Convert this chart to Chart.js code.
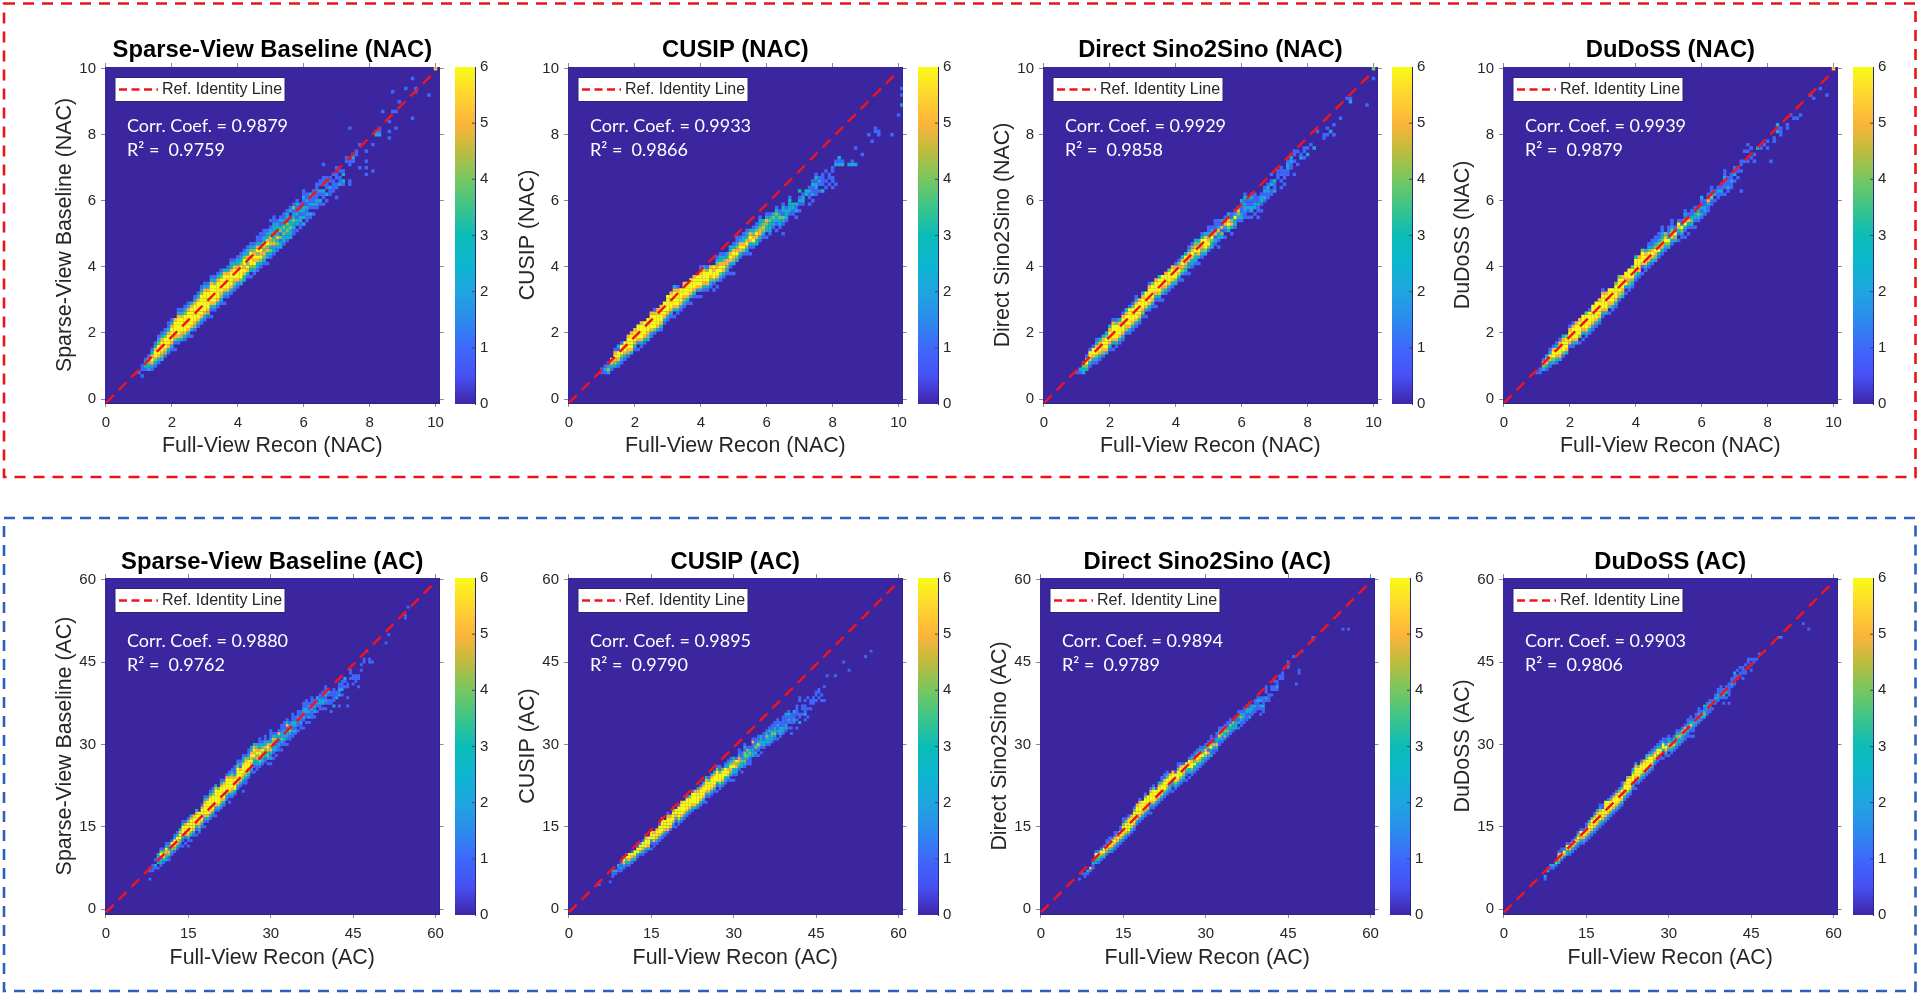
<!DOCTYPE html>
<html>
<head>
<meta charset="utf-8">
<title>Recon scatter density</title>
<script src="https://cdn.jsdelivr.net/npm/chart.js@4"></script>
<style>
  html, body { margin: 0; background: #fff; }
  canvas { position: absolute; }
  svg { position: absolute; left: 0; top: 0; }
</style>
</head>
<body>
<svg width="1920" height="995">
  <rect x="4" y="3.5" width="1911.5" height="473.5" fill="none" stroke="#e8141c" stroke-width="2.6" stroke-dasharray="11 8"/>
  <rect x="4" y="518" width="1911.5" height="473" fill="none" stroke="#2c5fbe" stroke-width="2.6" stroke-dasharray="11 8"/>
</svg>
<script>
// one entry per panel, top row then bottom row
const panelTitles = ['Sparse-View Baseline (NAC)', 'CUSIP (NAC)', 'Direct Sino2Sino (NAC)', 'DuDoSS (NAC)',
  'Sparse-View Baseline (AC)', 'CUSIP (AC)', 'Direct Sino2Sino (AC)', 'DuDoSS (AC)'];
const yLabels = ['Sparse-View Baseline (NAC)', 'CUSIP (NAC)', 'Direct Sino2Sino (NAC)', 'DuDoSS (NAC)',
  'Sparse-View Baseline (AC)', 'CUSIP (AC)', 'Direct Sino2Sino (AC)', 'DuDoSS (AC)'];
const xLabels = ['Full-View Recon (NAC)', 'Full-View Recon (NAC)', 'Full-View Recon (NAC)', 'Full-View Recon (NAC)',
  'Full-View Recon (AC)', 'Full-View Recon (AC)', 'Full-View Recon (AC)', 'Full-View Recon (AC)'];
const corrCoefs = ['0.9879', '0.9933', '0.9929', '0.9939', '0.9880', '0.9895', '0.9894', '0.9903'];
const rSquared = ['0.9759', '0.9866', '0.9858', '0.9879', '0.9762', '0.9790', '0.9789', '0.9806'];

const colorbarTicks = [0, 1, 2, 3, 4, 5, 6];
const nacTickStep = 2, acTickStep = 15;
const nacBinSize = 0.1, acBinSize = 0.5;
const nacIdentity = [[0, -0.12], [10, 9.93]];
const acIdentity = [[0, -0.55], [60, 59.6]];

// heat cells: "column startRow counts", one digit per row going up, 0 = empty
const baselineNac = ['10 8 1','11 7 1011','12 9 1321','13 9 23441','14 9 1256531','15 10 12466531','16 11 135666421',
'17 12 245666531','18 13 145666421','19 14 1356665311','20 15 1256666531','21 15 1014566665','22 17 13566666521',
'23 18 2456666531','24 18 13566666421','25 19 13566666521','26 19 10256666653','27 21 14566666521','28 22 13566666531',
'29 23 125666666421','30 24 135666666531','31 25 14566666521','32 25 1013566666531','33 27 12566666421','34 28 13566666531',
'35 29 12456666421','36 29 10135666653','37 31 1256666531','38 32 13566665321','39 33 1245666531','40 34 1256665321',
'41 35 2466664321','42 36 2356566421','43 37 1356465321','44 37 10346656421','45 38 1246565431','46 39 12356465211',
'47 40 13465643111','48 41 12454563211','49 41 10235465321','50 43 124354532101','51 44 132543423211','52 45 1243532321',
'53 46 2314143121','54 47 1324343211','55 48 1324341321','56 49 2324331021','57 50 1132422141','58 51 1023132131',
'59 52 11321311','60 53 20312211211','61 54 112131211','62 55 12012112','63 56 10121111','64 58 12211211','65 59 13012011',
'66 59 101120211','66 71 1','67 60 10201111','68 62 112011','69 63 111101','70 61 1001101101','71 65 21101','72 65 13021',
'73 72 11','74 65 11000011','74 82 1','75 72 121','76 74 11','77 70 1','77 77 1','79 68 101','79 72 1','79 75 1','81 69 1','81 77 1',
'82 80 22','83 80 211','84 87 1','86 79 101','86 84 1','87 87 1','87 93 1','88 82 1','88 87 1','89 90 1','91 94 1','93 85 1','93 97 1',
'94 93 11','98 92 1','100 100 5'];

const cusipNac = ['10 8 11','11 8 121','12 8 2421','13 9 1356','14 10 245651','15 10 1356612','16 11 1246661','17 12 135666',
'18 13 1456665','19 14 2566665','20 15 1356665','21 15 10256666','22 16 13566665','23 17 1356666','24 18 2456666',
'25 19 12566665','26 20 14666651','27 21 2566665','28 21 13566665','29 23 1356666','30 24 12566666','31 25 13566665',
'32 25 1025666652','33 26 135666651','34 27 1256666','35 28 12456665','36 29 1356666','37 29 10256666','38 31 1356665',
'39 31 1025666','40 31 1025666531','41 33 13566652','42 33 12566641','43 34 1245665','44 33 10146656','45 34 1025665421',
'46 36 124665321','47 37 13565431','48 38 1245532','49 38 101256532','50 38 1002456531','51 42 2465421','51 49 1','52 43 1356521','53 44 1465321',
'54 44 12465321','55 44 10135653','56 46 1365421','57 47 2356421','58 48 13554321','59 49 124543','60 49 10234521','61 50 1233421',
'62 52 12342','63 51 10123431','64 52 123421','65 50 1001241231','66 54 12321','67 56 132331','68 56 1132','69 55 10213',
'70 57 1012103','71 59 1321','72 62 33','73 59 101121','74 60 1021131','75 62 1122131','76 63 10121','77 63 201111','78 64 101','78 69 1',
'79 65 1011','80 64 101 ','80 66 11011','81 65 1','81 71 21','82 71 212','83 71 31','85 71 2','86 71 21','87 71 2','87 76 1','89 74 1','91 80 1','92 78 1',
'93 81 11','94 80 11','98 80 1','100 86 1','101 89 2','101 92 1','101 94 1'];

const sinoNac = ['10 8 1','11 8 12','12 8 2341','13 9 34651','14 10 135661','15 11 125661','16 11 12466531',
'17 12 1356653','18 13 1456653','19 14 2566642','20 15 13566653','21 15 1025666651','22 16 135666641','23 17 13566653',
'24 18 125666651','25 20 14566653','26 20 125666661','27 21 135666641','28 22 1256666521','29 23 13566665','30 25 14566652',
'31 25 10256666','32 27 135666651','33 28 12566664','34 28 101356665','35 30 13566663','36 30 10245666','37 32 1356665',
'38 33 1256664','39 34 1356665','40 35 2466651','41 36 1356541','42 36 10245653','43 38 1345663','44 38 102356521','45 40 12356541',
'46 41 1246 ','46 41 12346542','47 41 10256643','48 43 12456631','49 44 2466652','50 45 14654311','51 46 2346421','52 47 1 ','52 47 13152111',
'53 46 1001 ','53 48 1235211','54 49 241512','55 49 1012531','56 51 246532','57 50 1035411','58 52 133621','59 54 1245','59 58 3','60 54 1321132',
'61 55 11222131','62 55 1012113','63 55 10221131','64 56 1022111','65 55 1011311','66 57 101321','67 60 12121','68 61 11221','69 62 1103101','70 63 2113',
'71 67 111','72 64 1010111','73 65 10111','74 68 11221','75 70 1122','76 68 10001','76 74 11','77 71 10001','78 73 21','79 73 1011',
'80 74 201','81 77 1','82 76 2','83 81 1','85 79 11','86 80 101','87 81 2','88 83 1','88 80 1','90 85 1','92 91 1','93 90 21',
'98 89 1','100 97 1','100 100 4'];

const dudossNac = ['10 8 1','11 8 11','12 9 2451','13 9 13552','14 10 135621','15 11 246651','16 11 1356631',
'17 12 2566651','18 13 1466653','19 14 256664','20 16 1566651','21 16 13566651','22 17 2566665','23 17 10466665',
'24 18 10256666','25 19 13566664','26 20 13566661','27 21 12566666','28 22 13566666','29 23 13566665','30 25 135666651',
'31 26 2566665','32 26 10456666','33 27 1256666','34 28 13566664','35 30 14566664','36 31 2456665','37 32 1026566',
'38 33 1245666','39 34 1246664','40 36 12456663','41 37 1356665','42 38 10156664','43 39 1256652','44 40 13566421',
'45 41 13565211','46 42 24564311','47 43 13654211','48 44 135643211','49 45 124654','50 46 2463211','51 47 13564211',
'52 48 24621','53 48 1013561','54 49 124631','55 49 101365121','56 50 1013521','57 52 134311','58 52 1012311','59 54 12431','60 55 1212112',
'61 56 12211','62 57 113511','63 59 114311','64 60 1021','65 61 1121','66 62 1211','67 62 10112211','68 63 12111','69 64 11211','70 66 10211',
'71 67 1011','72 63 1','72 69 1011','73 72 1001','74 72 1001','74 77 1','75 73 1001','76 72 101','77 76 3','78 76 1','79 77 1','80 76 101','81 72 1',
'82 78 11','83 81 212','84 80 111','86 82 11','87 86 1','88 85 1','89 85 1','90 86 1','93 92 2','94 91 1','96 94 1','98 92 1',
'100 100 5'];

const baselineAc = ['16 11 1','16 14 11','17 14 1','17 15 11','18 15 1201','19 15 102232','20 16 1323641','21 17 135641',
'22 18 2345631','23 18 1145321','24 20 124661','25 21 1456621','26 22 1356631','27 23 1246653','28 23 1013566631','29 24 101456651',
'30 23 10125666641','31 25 1024666653','32 27 13566665','33 27 1012566653','34 28 12456666','35 30 135666651','36 30 101256666531',
'37 32 1356666641','38 33 12566666531','39 34 13566666421','40 34 101256666653','41 36 135666664','42 37 12456666531',
'43 38 1356666651','44 40 1246666651','45 39 101356666531','46 41 12456665421','47 42 13666653111','48 44 12566666421',
'49 45 1356665121','50 43 10012456665321','51 46 1024566654 ','51 47 1245666541','52 48 13456664211','53 50 1235656532','54 50 10123465653',
'55 51 1123546542','56 52 12435653211','57 53 132546421','58 54 1135453211','59 53 102435652','60 53 1021354532111','61 55 1012314531',
'62 56 102213431','63 58 11213251','64 58 1012423111','65 60 113212111','66 60 1012321521','67 62 1124521','68 63 112123111','69 64 1212311',
'70 65 10112211','71 66 1121211','72 66 1001212211','73 68 101122111','74 68 10312121','75 70 1112 ','75 70 11121111','76 70 1031211',
'77 72 101212','78 73 112211','79 73 1023111','80 73 101212111','81 75 110121','82 72 10011011','83 74 2011111','84 77 211','85 74 10002 ','85 79 1211','86 78 102111','87 81 1011 ','87 81 1012',
'88 74 100100011','89 84 1011','90 82 1011','91 83 111','92 81 10011','93 87 101','94 90 11','95 94 1','96 90 11','97 90 1','102 97 1',
'103 100 1','109 106 11','110 110 1'];

const cusipAc = ['11 9 1','15 10 1','16 12 11','16 14 2','17 13 12','18 14 112','19 14 1211','20 15 13562','21 16 13462','22 16 12566',
'23 17 13561','24 18 2466','25 19 136611','26 20 14662','27 20 125661','28 21 1366651','29 22 25666','30 22 1013666','31 23 115665',
'32 24 125665','33 25 1256661','34 26 12566665','35 27 135666','36 28 15666651','37 29 156665','38 30 12566641','39 30 1013566',
'40 31 13566661','41 32 13566665','42 33 1256666','43 34 12566661','44 35 1356664','45 36 13566661','46 37 2566665','47 37 13666653',
'48 38 13566651','49 39 12566652','50 39 1012566653','51 41 13566641','52 42 12566652','53 43 13566653','54 43 1013666641','55 44 124666411',
'56 45 1356664','57 46 12366621','58 47 12565321','59 47 1024564 ','59 47 102456421','60 47 101236543','61 49 1235461','62 51 12455211','63 50 10234211',
'64 52 124344121','65 53 1134341','66 53 1112421','67 56 2231151','68 56 1314211','69 56 10135211','70 57 1012332','71 59 13211 ','71 59 132111','72 60 132421','73 60 1223121',
'74 61 1234211','75 62 1243211','76 62 10121211','77 63 123211','78 64 1221111','79 65 1221112','80 66 1012131','81 64 10101111','82 68 12112',
'83 66 1001','83 71 1111','84 68 2011','84 76 11','85 71 1011','86 69 10211101','87 70 1001','87 77 1','88 73 1011','89 75 111','90 76 1011','91 77 1011','92 76 101',
'93 76 1','93 81 1','94 85 1','97 85 1','100 90 1','102 87 1','108 92 1','110 94 1'];

const sinoAc = ['14 11 1','15 13 1','16 12 11','17 13 12','18 14 15','19 15 1131','20 17 23561','21 17 13462','22 18 13561','23 19 24661',
'24 20 145611','25 21 246611','26 21 135661','27 22 1256511','28 23 125661','29 24 1256611','30 25 135666411','31 26 13566641','32 27 14666651',
'33 28 1356665','34 29 125666641','35 31 13566665','36 32 125666651','37 33 1356666','38 34 125666641','39 35 1356666','40 35 1012566651',
'41 37 125666641','42 38 1356661','43 39 12566653','44 40 135666411','45 41 124666511','46 42 124566421','47 43 1236665','48 43 10124665',
'49 44 1346661','50 45 135666411','51 46 1246665 ','51 46 12466651','52 47 1345661','53 47 1012466','54 48 102365 ','54 48 10236561','55 49 12466531','56 50 12364611',
'57 51 12356531','58 52 12456421','59 53 1336431','60 54 1246531','61 55 1251431','62 56 31264111','63 57 113511','64 58 1353211','65 60 1135421',
'66 61 122411','67 62 143451','68 63 124311','69 64 123411','70 65 1324','71 66 23211','72 66 1021321','73 67 113421','74 68 112211','75 69 111321','76 70 212311',
'77 71 1132','78 72 11211','79 73 1112 ','79 73 11121','80 71 1012021','81 72 112111','82 76 120111','83 76 1110','84 78 1011','85 80 1101','86 80 1211','87 84 11','88 84 111',
'90 88 121','92 92 1','93 82 1','94 86 110','95 94 1','99 98 11','110 102 1','112 102 1'];

const dudossAc = ['15 11 12','16 14 21','17 15 12','18 15 12','19 16 14','20 17 24651','21 18 14611','22 19 1561','23 20 23561','24 20 13561',
'25 21 12561','26 22 13561','27 23 125641','28 24 135661','29 24 125661','30 25 1256611','31 26 1256653','32 27 1356664','33 28 12566641',
'34 29 13566653','35 30 124666521','36 31 13566611','37 32 12566666','38 33 12566661','39 34 13566641','40 35 12566651','41 36 13566651',
'42 37 12566641','43 38 135666411','44 40 1356665','45 41 12566664','46 42 1356665','47 44 13566642','48 44 1012566652','49 46 1356664',
'50 47 12466651','51 48 1356665','52 49 12566642','53 50 13566641','54 51 12566421','55 53 1356521','56 54 1246631','57 55 1256311',
'58 55 10136621','59 56 1356211','60 56 10245321','61 57 124531','62 58 135431','63 59 1234421','64 60 132531','65 61 123541','66 62 113451',
'67 63 1132211','68 63 10125311','69 63 1011321','70 67 12311','71 68 121211','72 69 1311','73 70 24312','74 71 11231','75 72 11421','76 73 1011','77 75 1121','78 76 12211','79 77 13111',
'80 75 101341','81 77 10311','82 75 10011','82 80 111','83 81 1211','84 82 11112','85 84 1101','86 85 1101','87 84 10111','88 86 1101','89 88 1011','90 87 10101','91 90 11','92 91 1','93 93 1','100 99 2','101 99 1','109 104 1','111 102 1'];

const panelCells = [baselineNac, cusipNac, sinoNac, dudossNac, baselineAc, cusipAc, sinoAc, dudossAc];

// parula stops, value 0..6 in equal half steps
const parula = ['#3e26a8', '#4750f4', '#3e68fb', '#2c8cec', '#1fa5e0', '#0db6cf', '#0abcb8',
  '#3cc48a', '#76c760', '#bebc3e', '#fdb43a', '#fed52f', '#f9fb15'];
const cellColors = ['#3b26a0', '#3e68fb', '#1fa5e0', '#0abcb8', '#76c760', '#fdb43a', '#f9fb15'];

const plotLefts = [105, 568, 1042.5, 1502.7, 105, 568, 1039.7, 1502.7];
const colorbarLefts = [455, 918, 1392, 1852.7, 455, 918, 1389.7, 1852.7];
const rowTops = [66.7, 577.7];
const plotW = 336, plotH = 336.5;
const padL = 60, padR = 10, padT = 45, padB = 62;

const textColor = '#262626';
const tickColor = '#8a8a8a';
const frameColor = '#26267a';
const plotBack = '#3b26a0';

function parseCells(rows, bin) {
  const cells = [];
  rows.forEach(r => {
    const parts = r.trim().split(' ');
    const col = +parts[0], start = +parts[1];
    [...parts[2]].forEach((d, i) => {
      if (d !== '0') cells.push({ x: col * bin, y: (start + i) * bin, v: +d });
    });
  });
  return cells;
}

const notesPlugin = {
  id: 'notes',
  beforeDatasetsDraw(chart) {
    const { ctx, chartArea: a } = chart;
    ctx.save();
    ctx.fillStyle = plotBack;
    ctx.fillRect(a.left, a.top, a.width, a.height);
    ctx.restore();
  },
  afterDatasetsDraw(chart, args, opts) {
    const { ctx, chartArea: a } = chart;
    ctx.save();
    // legend box
    const bx = a.left + 10, by = a.top + 10.5;
    ctx.fillStyle = '#fff';
    ctx.strokeStyle = '#26267a';
    ctx.lineWidth = 1;
    ctx.fillRect(bx, by, 170, 24);
    ctx.strokeRect(bx, by, 170, 24);
    ctx.strokeStyle = '#f0141c';
    ctx.lineWidth = 2.4;
    ctx.setLineDash([8, 4.5]);
    ctx.beginPath();
    ctx.moveTo(bx + 4, by + 12);
    ctx.lineTo(bx + 43, by + 12);
    ctx.stroke();
    ctx.setLineDash([]);
    ctx.fillStyle = textColor;
    ctx.font = '16px "Liberation Sans"';
    ctx.textBaseline = 'middle';
    ctx.fillText('Ref. Identity Line', bx + 47, by + 12.5);
    // stats
    ctx.fillStyle = '#fff';
    ctx.font = '18px Lato';
    ctx.fillText('Corr. Coef. = ' + opts.corr, a.left + 22, a.top + opts.line1);
    ctx.fillText('R\u00b2 =  ' + opts.r2, a.left + 22, a.top + opts.line1 + 24.5);
    ctx.restore();
  }
};

// small inward ticks on the colorbar
const barTicksPlugin = {
  id: 'barTicks',
  afterDraw(chart) {
    const { ctx, chartArea: a, scales } = chart;
    ctx.save();
    ctx.strokeStyle = '#4a4a4a';
    ctx.lineWidth = 1;
    colorbarTicks.slice(1, -1).forEach(t => {
      const y = scales.y.getPixelForValue(t);
      ctx.beginPath();
      ctx.moveTo(a.right - 3, y);
      ctx.lineTo(a.right, y);
      ctx.stroke();
    });
    ctx.restore();
  }
};

function addCanvas(left, top, w, h) {
  const c = document.createElement('canvas');
  c.style.left = left + 'px';
  c.style.top = top + 'px';
  c.style.width = w + 'px';
  c.style.height = h + 'px';
  c.width = w;
  c.height = h;
  document.body.appendChild(c);
  return c;
}

function fixSize(prop, size) {
  return s => { s[prop] = size; };
}

panelTitles.forEach((title, i) => {
  const isNac = i < 4;
  const top = rowTops[isNac ? 0 : 1];
  const left = plotLefts[i];
  const bin = isNac ? nacBinSize : acBinSize;
  const step = isNac ? nacTickStep : acTickStep;
  const xRange = isNac ? [-0.03, 10.13] : [-0.18, 60.72];
  const yRange = isNac ? [-0.12, 10.05] : [-0.85, 60.3];
  const line = isNac ? nacIdentity : acIdentity;
  const tickOpts = { stepSize: step, includeBounds: false, autoSkip: false, maxRotation: 0,
    color: textColor, font: { family: '"Liberation Sans"', size: 15 } };
  const edge = { color: frameColor, width: 1 };
  const mark = { drawOnChartArea: false, tickLength: 4, tickColor: tickColor, tickWidth: 1 };

  new Chart(addCanvas(left - padL, top - padT, plotW + padL + padR, plotH + padT + padB), {
    type: 'scatter',
    data: {
      datasets: [{
        type: 'line',
        data: line.map(p => ({ x: p[0], y: p[1] })),
        borderColor: '#f0141c',
        borderWidth: 2.4,
        borderDash: [11, 7],
        pointRadius: 0,
        order: 0
      }, {
        data: parseCells(panelCells[i], bin),
        pointStyle: 'rect',
        pointRadius: isNac ? 2.45 : 2.05,
        pointBorderWidth: 0,
        pointBackgroundColor: c => c.raw ? cellColors[c.raw.v] : plotBack,
        order: 1
      }]
    },
    options: {
      animation: false,
      responsive: false,
      events: [],
      layout: { padding: 0 },
      plugins: {
        legend: { display: false },
        tooltip: { enabled: false },
        notes: { corr: corrCoefs[i], r2: rSquared[i], line1: isNac ? 59 : 63 }
      },
      scales: {
        x: {
          type: 'linear', position: 'bottom', min: xRange[0], max: xRange[1],
          afterFit: fixSize('height', padB),
          ticks: { ...tickOpts, padding: 7 }, grid: mark, border: edge,
          title: { display: true, text: xLabels[i], color: textColor,
            font: { family: '"Liberation Sans"', size: 21.4 }, padding: { top: 0, bottom: isNac ? 6 : 5 } }
        },
        y: {
          type: 'linear', position: 'left', min: yRange[0], max: yRange[1],
          afterFit: fixSize('width', padL),
          ticks: { ...tickOpts, padding: 5 }, grid: mark, border: edge,
          title: { display: true, text: yLabels[i], color: textColor,
            font: { family: '"Liberation Sans"', size: 21.4 }, padding: { top: 7, bottom: 0 } }
        },
        x2: {
          type: 'linear', axis: 'x', position: 'top', min: xRange[0], max: xRange[1],
          afterFit: fixSize('height', padT),
          ticks: { ...tickOpts, display: false }, grid: mark, border: edge,
          title: { display: true, text: title, color: '#000',
            font: { family: '"Liberation Sans"', size: 23.8, weight: 'bold' }, padding: { top: isNac ? 14.6 : 15.6, bottom: 0 } }
        },
        y2: {
          type: 'linear', axis: 'y', position: 'right', min: yRange[0], max: yRange[1],
          afterFit: fixSize('width', padR),
          ticks: { ...tickOpts, display: false }, grid: mark, border: edge
        }
      }
    },
    plugins: [notesPlugin]
  });

  // colorbar
  const barW = 20;
  const barPadR = 20;
  new Chart(addCanvas(colorbarLefts[i], top - 10, barW + barPadR, plotH + 1 + 20), {
    type: 'bar',
    data: {
      labels: [''],
      datasets: [{
        data: [colorbarTicks[colorbarTicks.length - 1]],
        barPercentage: 1,
        categoryPercentage: 1,
        backgroundColor: c => {
          const a = c.chart.chartArea;
          if (!a) return parula[0];
          const g = c.chart.ctx.createLinearGradient(0, a.bottom, 0, a.top);
          parula.forEach((col, k) => g.addColorStop(k / (parula.length - 1), col));
          return g;
        }
      }]
    },
    options: {
      animation: false,
      responsive: false,
      events: [],
      layout: { padding: { top: 10, bottom: 10 } },
      plugins: { legend: { display: false }, tooltip: { enabled: false } },
      scales: {
        x: { display: false },
        y: {
          position: 'right', min: 0, max: 6,
          afterFit: s => { s.width = barPadR; s.paddingTop = 0; s.paddingBottom = 0; },
          ticks: { stepSize: 1, padding: 5, color: textColor, font: { family: '"Liberation Sans"', size: 15 } },
          grid: { display: false, drawTicks: false, tickLength: 0 },
          border: { display: true, color: frameColor, width: 1 }
        }
      }
    },
    plugins: [barTicksPlugin]
  });
});
</script>
</body>
</html>
